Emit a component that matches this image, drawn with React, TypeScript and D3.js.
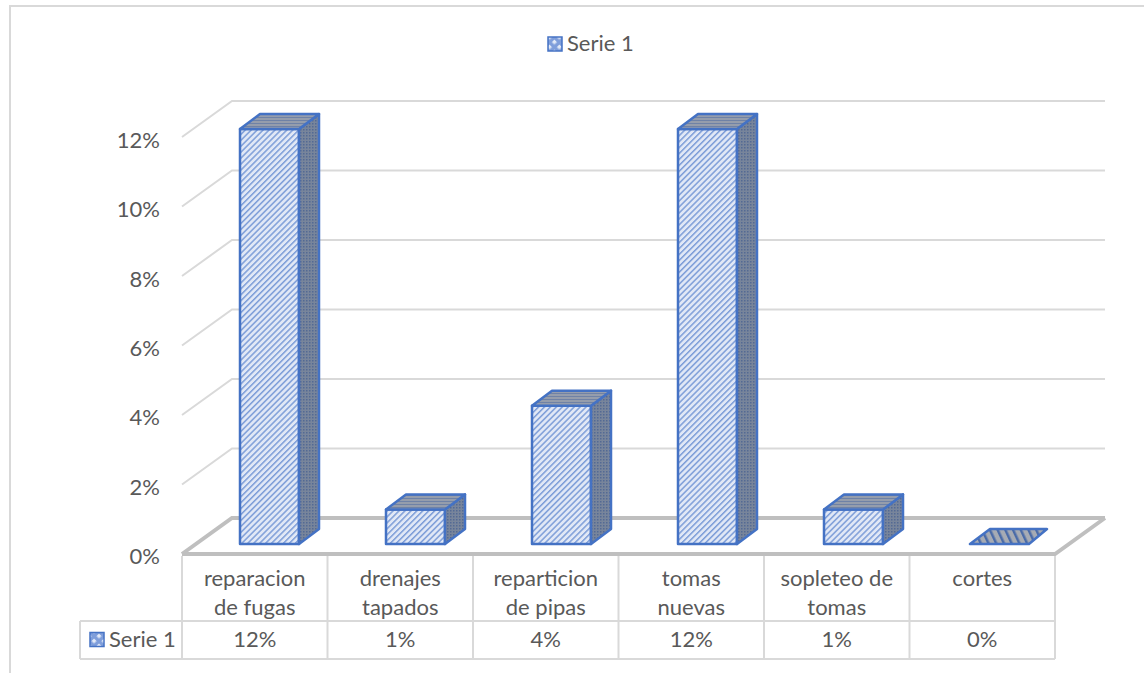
import React from "react";
import * as d3 from "d3";

const categories = [["reparacion", "de fugas"], ["drenajes", "tapados"], ["reparticion", "de pipas"], ["tomas", "nuevas"], ["sopleteo de", "tomas"], ["cortes"]];
const values = [12, 1, 4, 12, 1, 0];
const yTicks = [0, 2, 4, 6, 8, 10, 12];
const seriesName = "Serie 1";
const FONT = "Lato, 'Open Sans', sans-serif";
const TXT = "#595959";
const BLUE = "#4472c4";

export default function App() {
  const x = d3.scaleBand<number>().domain(d3.range(6)).range([182, 1055]);
  const barX = d3.scalePoint<number>().domain(d3.range(6)).range([240, 970]);
  const yFront = d3.scaleLinear().domain([0, 12]).range([554, 137]);
  const yLabel = d3.scaleLinear().domain([0, 12]).range([565, 149]);
  const yBar = d3.scaleLinear().domain([0, 12]).range([544, 129]);
  const dx = 50, dy = 36, bdx = 20, bdy = 15, bw = 59;
  const tableTop = 554, rowY = 621, tableBottom = 659, legendLeft = 80;
  const fs = 22;
  return (
    <svg width={1144} height={673} style={{ position: "absolute", left: 0, top: 0, background: "#fff" }}>
      <defs>
        <pattern id="front" width="4.2" height="4.2" patternUnits="userSpaceOnUse" patternTransform="rotate(-45)">
          <rect width="4.2" height="4.2" fill="#e1e8f6" />
          <rect width="4.2" height="1.5" fill="#7d9dd8" />
        </pattern>
        <pattern id="side" width="3" height="3" patternUnits="userSpaceOnUse">
          <rect width="3" height="3" fill="#78859b" />
          <rect width="1.5" height="1.5" fill="#536a94" />
        </pattern>
        <pattern id="top" width="4" height="3" patternUnits="userSpaceOnUse">
          <rect width="4" height="3" fill="#959dac" />
          <rect width="4" height="1" fill="#6f82a6" />
        </pattern>
        <pattern id="flat" width="7" height="7" patternUnits="userSpaceOnUse" patternTransform="rotate(-25)">
          <rect width="7" height="7" fill="#a6abb4" />
          <rect width="2.5" height="7" fill="#4a6ba8" />
        </pattern>
        <pattern id="key" width="7" height="7" patternUnits="userSpaceOnUse" patternTransform="rotate(45)">
          <rect width="7" height="7" fill="#7f9edb" />
          <rect width="3.5" height="3.5" fill="#e3eaf7" />
        </pattern>
      </defs>
      <path d="M10 673V6H1144" fill="none" stroke="#d9d9d9" strokeWidth={2} />

      {yTicks.map(t => (
        <path key={t} d={`M${x.range()[0]} ${yFront(t)}L${x.range()[0] + dx} ${yFront(t) - dy}H${x.range()[1] + dx}`}
          fill="none" stroke={t === 0 ? "#bfbfbf" : "#d9d9d9"} strokeWidth={t === 0 ? 4 : 2} />
      ))}
      <path d={`M${x.range()[0]} 554H${x.range()[1]}L${x.range()[1] + dx} 518`} fill="none" stroke="#bfbfbf" strokeWidth={4} />

      {values.map((v, i) => {
        const x0 = barX(i)!;
        const x1 = x0 + bw;
        const y0 = yBar(v), yb = yBar(0);
        const st = { stroke: BLUE, strokeWidth: 2.5, strokeLinejoin: "round" as const };
        if (v === 0) {
          return <path key={i} d={`M${x0} ${yb}H${x1}L${x1 + bdx - 2} ${yb - bdy}H${x0 + bdx}Z`} fill="url(#flat)" {...st} />;
        }
        return (
          <g key={i}>
            <rect x={x0} y={y0} width={bw} height={yb - y0} fill="url(#front)" {...st} />
            <path d={`M${x1} ${y0}L${x1 + bdx} ${y0 - bdy}V${yb - bdy}L${x1} ${yb}Z`} fill="url(#side)" {...st} />
            <path d={`M${x0} ${y0}L${x0 + bdx} ${y0 - bdy}H${x1 + bdx}L${x1} ${y0}Z`} fill="url(#top)" {...st} />
          </g>
        );
      })}

      {yTicks.map(t => (
        <text key={t} x={160} y={yLabel(t) - 1} textAnchor="end" fontFamily={FONT} fontSize={fs} fill={TXT}>{t}%</text>
      ))}

      <g stroke="#d9d9d9" strokeWidth={2} fill="none">
        <path d={`M${legendLeft} ${rowY}H1055M${legendLeft} ${tableBottom}H1055M${legendLeft} ${rowY}V${tableBottom}`} />
        {d3.range(7).map(i => {
          const xx = i === 6 ? x.range()[1] : x(i)!;
          return <line key={i} x1={xx} x2={xx} y1={tableTop + 2} y2={tableBottom} />;
        })}
      </g>

      {categories.map((lines, i) => (
        <text key={i} textAnchor="middle" fontFamily={FONT} fontSize={fs} fill={TXT}>
          {lines.map((l, j) => (
            <tspan key={j} x={x(i)! + x.bandwidth() / 2} y={586 + j * 29}>{l}</tspan>
          ))}
        </text>
      ))}
      {values.map((v, i) => (
        <text key={i} x={x(i)! + x.bandwidth() / 2} y={647} textAnchor="middle" fontFamily={FONT} fontSize={fs} fill={TXT}>{v}%</text>
      ))}
      <rect x={90} y={632.5} width={14} height={14} fill="url(#key)" stroke={BLUE} strokeWidth={1.5} />
      <text x={109} y={647} fontFamily={FONT} fontSize={fs} fill={TXT}>{seriesName}</text>
      <rect x={548} y={37} width={14} height={14} fill="url(#key)" stroke={BLUE} strokeWidth={1.5} />
      <text x={567} y={51} fontFamily={FONT} fontSize={fs} fill={TXT}>{seriesName}</text>
    </svg>
  );
}
